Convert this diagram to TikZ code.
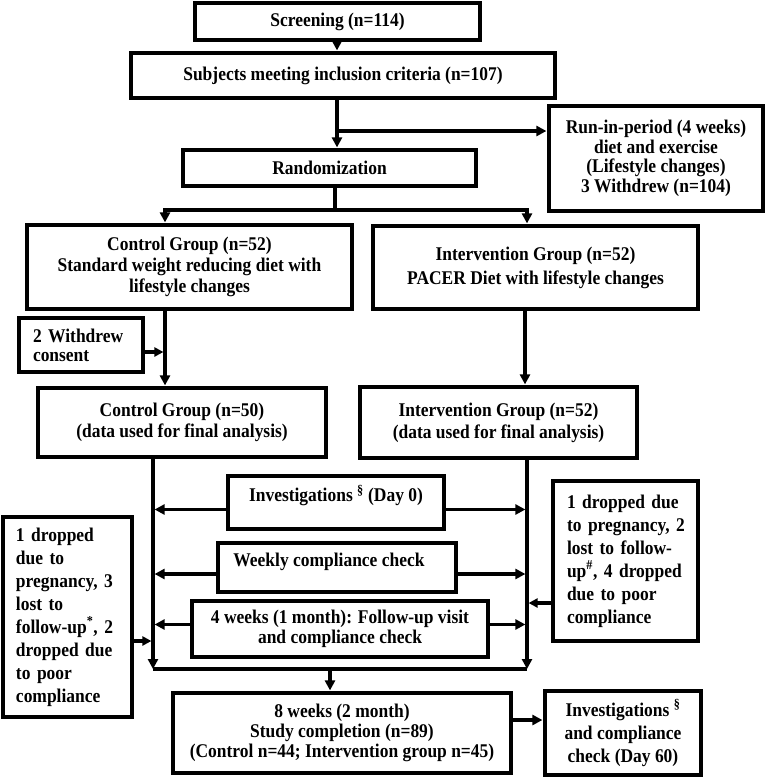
\documentclass[tikz,border=0pt]{standalone}
\usepackage{fontspec}
\setmainfont{Liberation Serif}[FakeStretch=0.9]
\usetikzlibrary{arrows.meta}
\newcommand{\lsp}[1]{\fontsize{19.4}{#1}\selectfont\bfseries}
\tikzset{
 box/.style={draw, line width=3.2pt, inner sep=0pt, align=center, font=\lsp{21}},
 ln/.style={line width=3.2pt},
 arr/.style={line width=3.2pt, -{Triangle[length=10pt,width=10pt]}, shorten >=1pt},
 darr/.style={line width=3.2pt, {Triangle[length=10pt,width=10pt]}-{Triangle[length=10pt,width=10pt]}, shorten >=1pt, shorten <=1pt},
}
\begin{document}
\begin{tikzpicture}[x=1pt,y=-1pt]
\useasboundingbox (0,0) rectangle (767,777);
% boxes
\node[box, minimum width=285pt, minimum height=37pt] (screen) at (337.5,21.5) {Screening (n=114)};
\node[box, minimum width=424pt, minimum height=45pt] (subj) at (343,75.5) {Subjects meeting inclusion criteria (n=107)};
\node[box, minimum width=293pt, minimum height=36pt] (rand) at (329.5,168) {Randomization};
\node[box, minimum width=214pt, minimum height=105pt, font=\lsp{19.5}] (runin) at (656,158.5) {Run-in-period (4 weeks)\\diet and exercise\\(Lifestyle changes)\\3 Withdrew (n=104)};
\node[box, minimum width=325pt, minimum height=84pt, font=\lsp{20.7}] (ctrl) at (189.5,267) {Control Group (n=52)\\Standard weight reducing diet with\\lifestyle changes};
\node[box, minimum width=325pt, minimum height=83pt, font=\lsp{24}] (intv) at (535.5,267.5) {Intervention Group (n=52)\\PACER Diet with lifestyle changes};
\node[box, minimum width=124pt, minimum height=54pt, align=left, text width=96pt, inner xsep=14pt, font=\lsp{19}] (wd) at (81,345) {2 Withdrew\\consent};
\node[box, minimum width=288pt, minimum height=69pt] (ctrlf) at (182,422.5) {Control Group (n=50)\\(data used for final analysis)};
\node[box, minimum width=277pt, minimum height=71pt, font=\lsp{22}] (intvf) at (498.5,422.5) {Intervention Group (n=52)\\(data used for final analysis)};
\node[box, minimum width=216pt, minimum height=53pt, text depth=18pt] (inv0) at (336,502.5) {Investigations \textsuperscript{\S} (Day 0)};
\node[box, minimum width=238pt, minimum height=49pt, text depth=15pt] (weekly) at (337,567.5) {Weekly compliance check\hspace*{16pt}};
\node[box, minimum width=296pt, minimum height=56pt, font=\lsp{20}] (fu4) at (340,629) {4 weeks (1 month): Follow-up visit\\and compliance check};
\node[box, minimum width=129pt, minimum height=200pt, align=left, text width=103pt, inner xsep=13pt, font=\lsp{23}] (ldrop) at (67.5,617) {1 dropped\\due to\\pregnancy, 3\\lost to\\follow-up\textsuperscript{*}, 2\\dropped due\\to poor\\compliance};
\node[box, minimum width=145pt, minimum height=160pt, align=left, text width=123pt, inner xsep=11pt, font=\lsp{23}] (rdrop) at (625.5,561) {\hspace*{3pt}1 dropped due\\\hspace*{3pt}to pregnancy, 2\\\hspace*{3pt}lost to follow-\\\hspace*{3pt}up\textsuperscript{\#}, 4 dropped\\\hspace*{3pt}due to poor\\\hspace*{3pt}compliance};
\node[box, minimum width=338pt, minimum height=80pt, font=\lsp{20}] (wk8) at (342,733) {8 weeks (2 month)\\Study completion (n=89)\\(Control n=44; Intervention group n=45)};
\node[box, minimum width=156pt, minimum height=84pt, font=\lsp{23}] (inv60) at (623,733) {Investigations \textsuperscript{\S}\\and compliance\\check (Day 60)};
% top connectors
\coordinate (j1) at (337,131);
\draw[arr] (screen.south -| j1) -- (subj.north -| j1);
\draw[ln] (subj.south -| j1) -- (j1);
\draw[arr] (j1) -- (rand.north -| j1);
\draw[arr] (j1) -- (runin.west |- j1);
\coordinate (j2) at (335,210);
\coordinate (j2l) at (165,210);
\coordinate (j2r) at (527,210);
\draw[ln] (rand.south -| j2) -- (j2);
\draw[darr] (ctrl.north -| j2l) -- (j2l) -- (j2r) -- (intv.north -| j2r);
\coordinate (xc) at (165,0);
\coordinate (xi) at (525,0);
\draw[arr] (ctrl.south -| xc) -- (ctrlf.north -| xc);
\coordinate (wa) at (0,352);
\draw[arr, -{Triangle[length=9pt,width=9pt]}, shorten >=1.6pt] (wd.east |- wa) -- (xc |- wa);
\draw[arr] (intv.south -| xi) -- (intvf.north -| xi);
% lower connectors
\coordinate (bl) at (153,669);
\coordinate (br) at (527,669);
\coordinate (bm) at (330,669);
\draw[arr, shorten >=0pt] (ctrlf.south -| bl) -- (bl);
\draw[arr, shorten >=0pt] (intvf.south -| br) -- (br);
\draw[ln] (bl) -- (br);
\draw[arr] (bm) -- (wk8.north -| bm);
\coordinate (y0) at (0,509.5);
\coordinate (y1) at (0,574);
\coordinate (y2) at (0,624.5);
\coordinate (y3) at (0,641);
\coordinate (y4) at (0,603);
\coordinate (y5) at (0,720);
\draw[arr, shorten >=1.6pt] (inv0.west |- y0) -- (bl |- y0);
\draw[arr, shorten >=1.6pt] (inv0.east |- y0) -- (br |- y0);
\draw[arr, shorten >=1.6pt] (weekly.west |- y1) -- (bl |- y1);
\draw[arr, shorten >=1.6pt] (weekly.east |- y1) -- (br |- y1);
\draw[arr, shorten >=1.6pt] (fu4.west |- y2) -- (bl |- y2);
\draw[arr, shorten >=1.6pt] (fu4.east |- y2) -- (br |- y2);
\draw[arr, -{Triangle[length=9pt,width=9pt]}, shorten >=1.6pt] (ldrop.east |- y3) -- (bl |- y3);
\draw[arr, -{Triangle[length=9pt,width=9pt]}, shorten >=1.6pt] (rdrop.west |- y4) -- (br |- y4);
\draw[arr] (wk8.east |- y5) -- (inv60.west |- y5);
\end{tikzpicture}
\end{document}
